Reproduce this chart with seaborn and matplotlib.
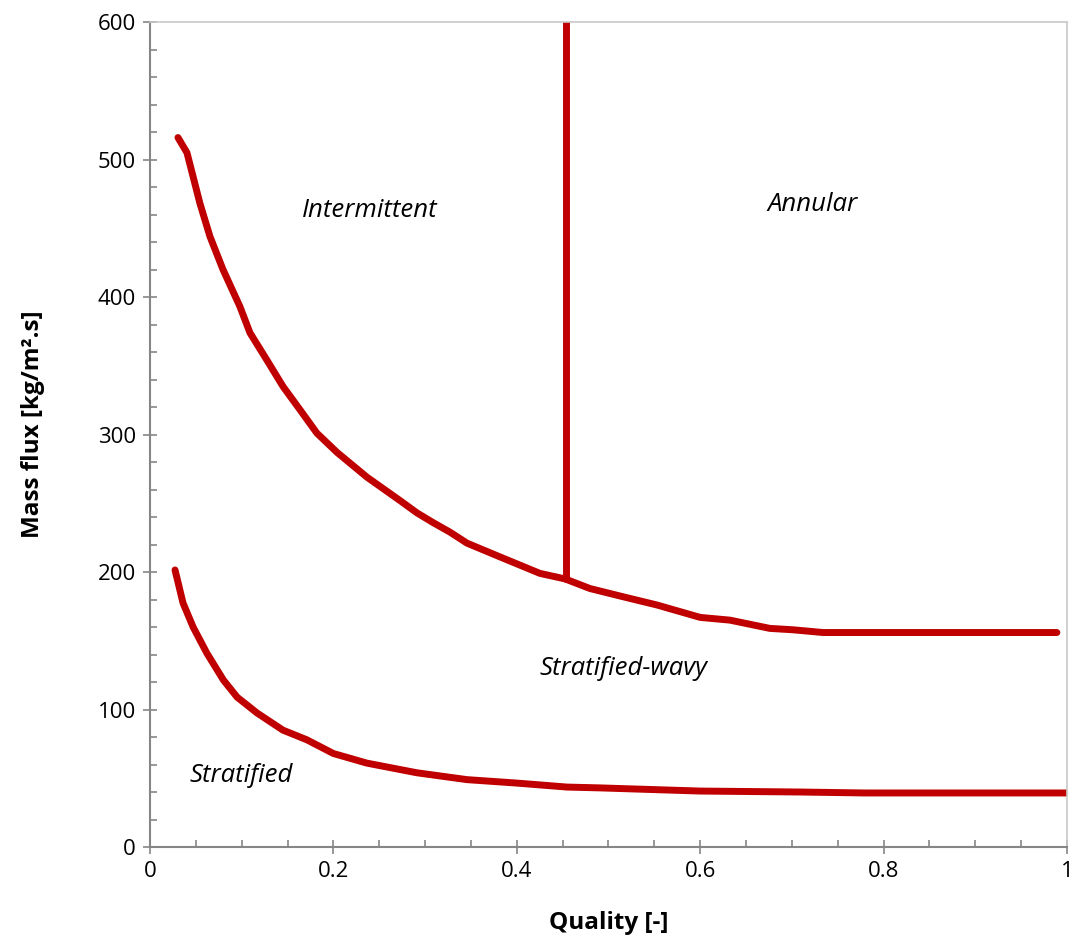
import pandas as pd
import matplotlib
matplotlib.use("Agg")
import matplotlib.pyplot as plt
import seaborn as sns
from matplotlib.ticker import MultipleLocator

# data
# ---

# upper boundary (intermittent / annular vs stratified-wavy)
upper_x = [0.0305, 0.0403, 0.0545, 0.0654, 0.0796, 0.0981, 0.109, 0.1276, 0.145,
           0.1636, 0.182, 0.204, 0.2366, 0.2726, 0.2912, 0.3086, 0.3272, 0.3457,
           0.3817, 0.4253, 0.4526, 0.4798, 0.516, 0.553, 0.600, 0.6325, 0.676,
           0.701, 0.734, 0.80, 0.90, 0.989]
upper_y = [516, 505, 468, 444, 420, 393, 374, 354, 335,
           318, 301, 287, 269, 252, 243, 236, 229, 221,
           211, 199, 195, 188, 182, 176, 167, 165, 159,
           158, 156, 156, 156, 156]

# vertical boundary intermittent / annular
vert_x = [0.4536, 0.4536]
vert_y = [195, 600]

# lower boundary (stratified-wavy vs stratified)
lower_x = [0.0273, 0.036, 0.047, 0.062, 0.080, 0.095, 0.1167, 0.145, 0.171,
           0.200, 0.2366, 0.291, 0.3457, 0.400, 0.4547, 0.4907, 0.600, 0.709,
           0.78, 1.0]
lower_y = [201.5, 177.5, 160, 141, 121.5, 109, 97.5, 85, 78,
           68, 61, 54, 49, 46.5, 43.6, 43, 40.7, 40,
           39.3, 39.3]

# region labels
region_names = ["Intermittent", "Annular", "Stratified-wavy", "Stratified"]
region_x = [0.24, 0.723, 0.516, 0.099]
region_y = [463, 467, 130, 52]

# plot
# ---

sns.set_style("white")
plt.rcParams['font.family'] = ['Open Sans', 'DejaVu Sans']
plt.rcParams['text.color'] = 'black'
plt.rcParams['axes.labelcolor'] = 'black'
plt.rcParams['xtick.color'] = 'black'
plt.rcParams['ytick.color'] = 'black'

fig = plt.figure(figsize=(10.76, 9.38), dpi=100)
ax = fig.add_axes([0.1394, 0.097, 0.8522, 0.8795])

red = "#C00000"
for xs, ys in [(upper_x, upper_y), (vert_x, vert_y), (lower_x, lower_y)]:
    d = pd.DataFrame({"x": xs, "y": ys})
    sns.lineplot(data=d, x="x", y="y", sort=False, estimator=None, ax=ax,
                 color=red, linewidth=5, solid_capstyle="round",
                 solid_joinstyle="round")

for name, x, y in zip(region_names, region_x, region_y):
    ax.text(x, y, name, ha="center", va="center", fontsize=18.5, style="italic")

ax.set_xlim(0, 1)
ax.set_ylim(0, 600)
ax.xaxis.set_major_locator(MultipleLocator(0.2))
ax.xaxis.set_minor_locator(MultipleLocator(0.05))
ax.yaxis.set_major_locator(MultipleLocator(100))
ax.yaxis.set_minor_locator(MultipleLocator(20))
ax.set_xticks([0, 0.2, 0.4, 0.6, 0.8, 1.0])
ax.set_xticklabels(["0", "0.2", "0.4", "0.6", "0.8", "1"])

ax.tick_params(which="both", bottom=True, left=True, top=False, right=False)
ax.tick_params(which="major", direction="inout", length=10, width=1.2,
               color="#868686", labelcolor="black", labelsize=16, pad=5)
ax.tick_params(which="minor", direction="in", length=5, width=1.2, color="#868686")

for s in ["left", "bottom"]:
    ax.spines[s].set_color("#868686")
    ax.spines[s].set_linewidth(1.5)
for s in ["top", "right"]:
    ax.spines[s].set_color("#C8C8C8")
    ax.spines[s].set_linewidth(1.2)

ax.set_xlabel("Quality [-]", fontsize=17.5, fontweight="bold", labelpad=21)
ax.set_ylabel("Mass flux [kg/m².s]", fontsize=17.5, fontweight="bold")
ax.yaxis.set_label_coords(-0.114, 0.513)

fig.savefig("out.png", dpi=100)
plt.close(fig)
